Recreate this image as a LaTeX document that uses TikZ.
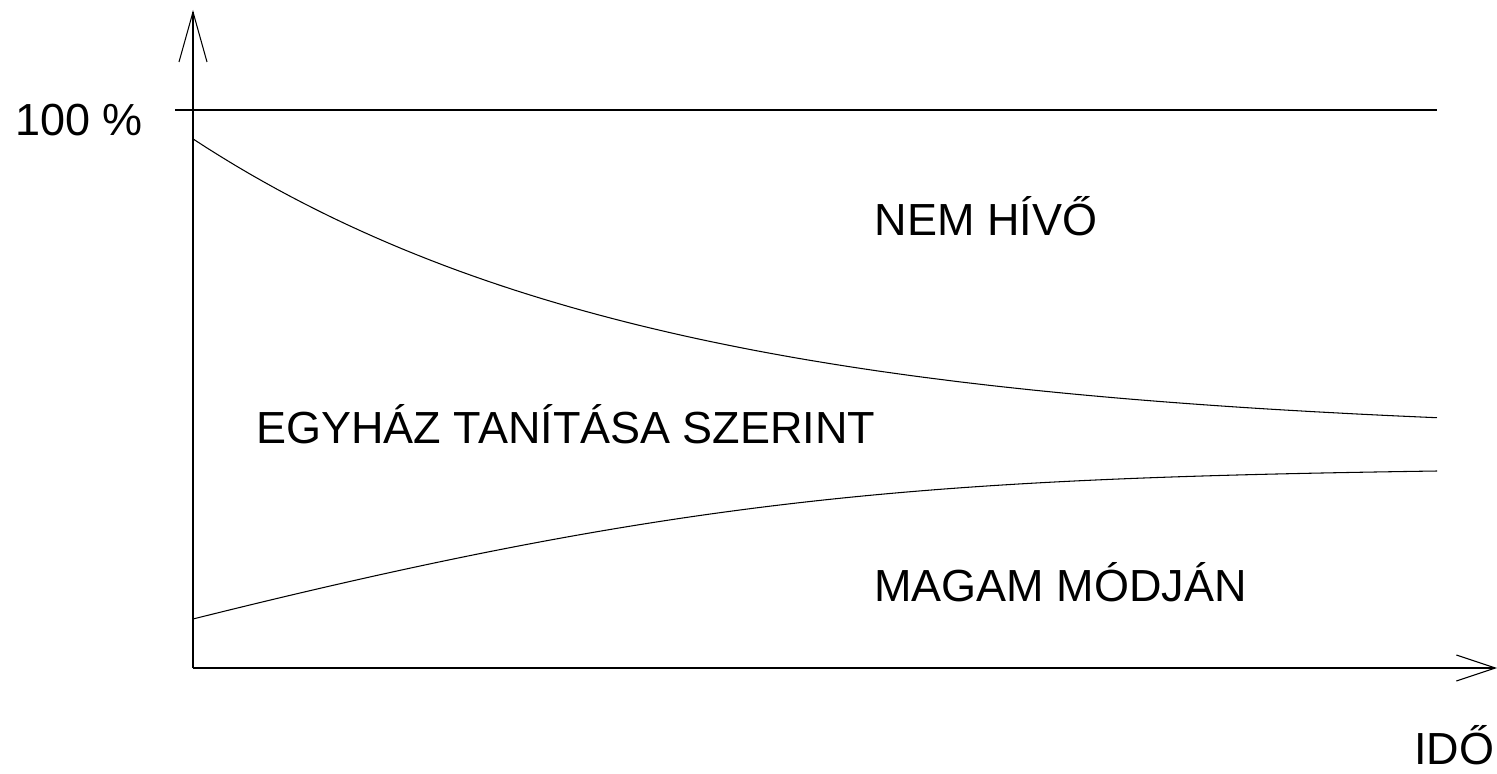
\documentclass[tikz,border=0pt]{standalone}
\usepackage{fontspec}
\setmainfont{Liberation Sans}
\usetikzlibrary{arrows.meta}
\begin{document}
\begin{tikzpicture}[
    vonal/.style={line width=0.6pt},
    felirat/.style={font=\fontsize{25.6}{30}\selectfont, inner sep=0pt, anchor=base west}]
            \useasboundingbox (0,0) rectangle (29.94,15.46);

            \coordinate (O) at (3.86,2.1);
            \coordinate (Y) at (3.86,15.26);
            \coordinate (X) at (29.94,2.1);
            \coordinate (SA) at (3.5,13.26);
            \coordinate (SB) at (28.74,13.26);
            \coordinate (AL) at (3.86,3.08);
            \coordinate (AR) at (28.74,6.04);

            \draw[vonal, -{Straight Barb[length=1cm, width=0.56cm]}] (O) -- (Y);
            \draw[vonal, -{Straight Barb[length=0.78cm, width=0.52cm]}] (O) -- (X);
            \draw[vonal] (SA) -- (SB);

            \draw[vonal] plot[domain=3.86:28.74, samples=90] (\x, {6.72+6*exp(-0.11*(\x-3.8))});
            \draw[vonal] (AL) .. controls (13.86,5.58) and (18.74,5.89) .. (AR);

            \node[felirat] (szaz) at (0.3,12.74) {100 \%};
            \node[felirat] (nemhivo) at (17.49,10.76) {NEM HÍVŐ};
            \node[felirat] (egyhaz) at (5.12,6.6) {EGYHÁZ TANÍTÁSA SZERINT};
            \node[felirat] (magam) at (17.48,3.44) {MAGAM MÓDJÁN};
            \node[felirat] (ido) at (28.28,0.18) {IDŐ};
\end{tikzpicture}
\end{document}
